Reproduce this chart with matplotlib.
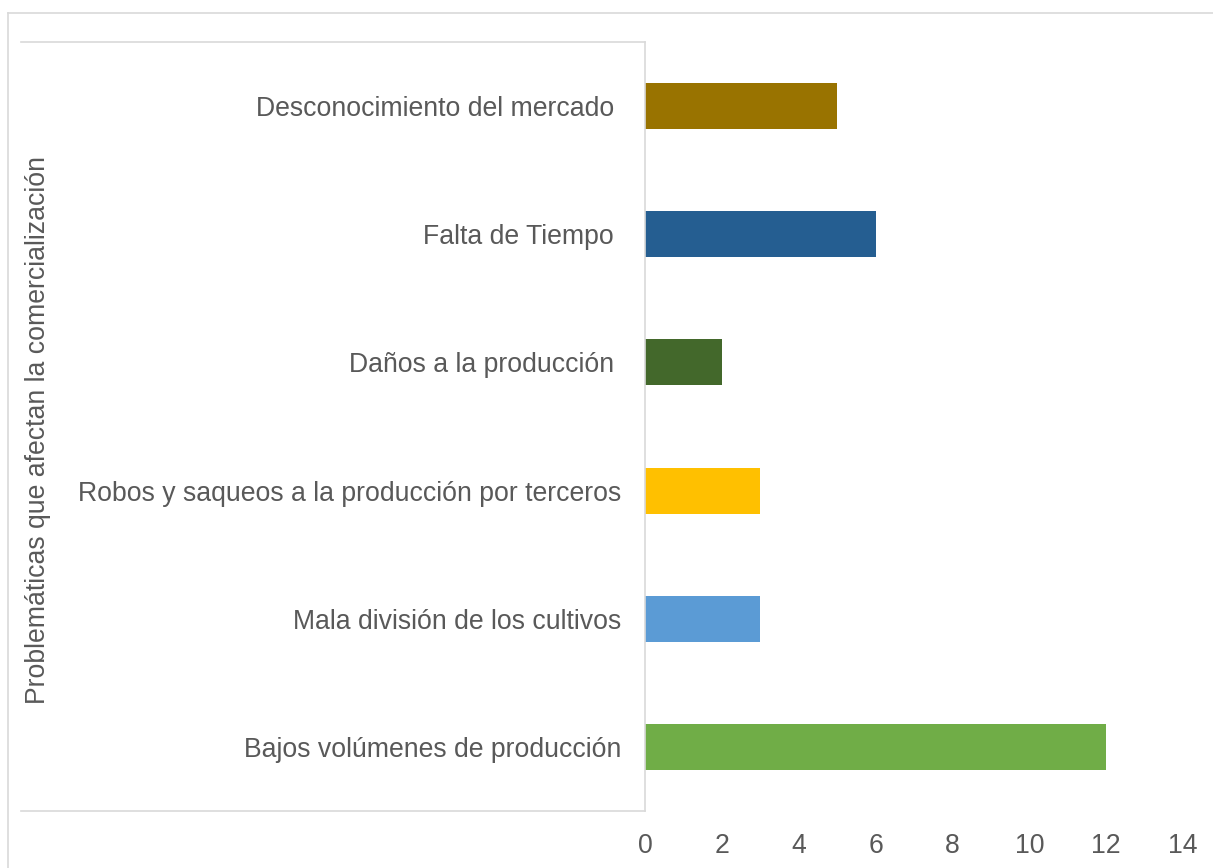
import matplotlib.pyplot as plt
from matplotlib.lines import Line2D

plt.rcParams['font.family'] = ['Liberation Sans', 'DejaVu Sans']

# datos (de abajo hacia arriba)
categorias = [
    "Bajos volúmenes de producción",
    "Mala división de los cultivos",
    "Robos y saqueos a la producción por terceros",
    "Daños a la producción ",
    "Falta de Tiempo ",
    "Desconocimiento del mercado ",
]
valores = [12, 3, 3, 2, 6, 5]
colores = ['#70AD47', '#5B9BD5', '#FFC000', '#43682B', '#255E91', '#997300']
ticks_x = [0, 2, 4, 6, 8, 10, 12, 14]

gris_texto = '#595959'
gris_linea = '#D9D9D9'

fig = plt.figure(figsize=(12.13, 8.68), dpi=100)
ax = fig.add_axes([0.5317, 0.0657, 0.4436, 0.8859])

ax.barh(range(len(categorias)), valores, height=0.36, color=colores)

ax.set_xlim(0, 14)
ax.set_ylim(-0.5, len(categorias) - 0.5)
ax.set_xticks(ticks_x)
ax.set_yticks(range(len(categorias)))
ax.set_yticklabels(categorias)
ax.tick_params(axis='both', length=0, labelsize=19.2, colors=gris_texto)
ax.tick_params(axis='y', pad=17)
ax.tick_params(axis='x', pad=16)

for s in ['top', 'right', 'bottom']:
    ax.spines[s].set_visible(False)
ax.spines['left'].set_color(gris_linea)
ax.spines['left'].set_linewidth(1.2)

# caja del área de etiquetas
W, H = 1213, 868
def fx(px):
    return px / W
def fy(py):
    return 1 - py / H

fig.add_artist(Line2D([fx(21), fx(645)], [fy(42), fy(42)], color=gris_linea, lw=1.2))
fig.add_artist(Line2D([fx(21), fx(645)], [fy(811), fy(811)], color=gris_linea, lw=1.2))
# borde exterior
fig.add_artist(Line2D([fx(8), fx(1213)], [fy(13), fy(13)], color=gris_linea, lw=1.2))
fig.add_artist(Line2D([fx(8), fx(8)], [fy(13), 0], color=gris_linea, lw=1.2))

fig.text(fx(38), fy(430), "Problemáticas que afectan la comercialización",
         rotation=90, ha='center', va='center', fontsize=19.2, color=gris_texto)

plt.savefig('out.png', dpi=100)
